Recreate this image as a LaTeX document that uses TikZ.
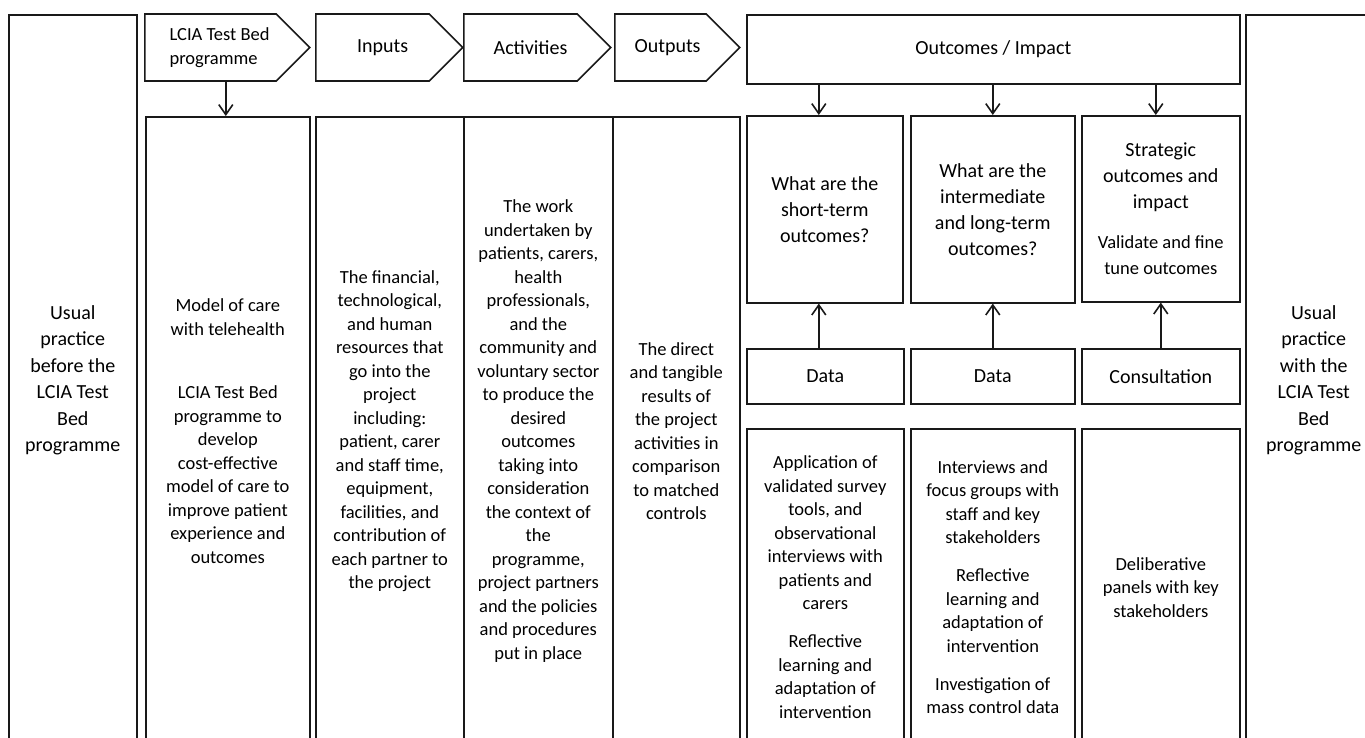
\documentclass[tikz,border=0pt]{standalone}
\usepackage{fontspec}
\setmainfont{Carlito}
\usetikzlibrary{shapes.symbols,arrows.meta}
\newcommand{\bigfnt}{\fontsize{20}{26}\selectfont}
\newcommand{\smlfnt}{\fontsize{18.5}{23.5}\selectfont}
\begin{document}
\begin{tikzpicture}[x=1pt,y=-1pt,
  box/.style={draw=linecolor,line width=1.6pt,rectangle,inner sep=0pt,align=center,anchor=north west},
  hdr/.style={draw=linecolor,line width=1.6pt,signal,signal to=east,signal pointer angle=90,minimum height=67pt,inner sep=0pt,anchor=west,font=\bigfnt},
  flow/.style={draw=linecolor,line width=1.6pt,-{Straight Barb[length=10pt,width=14pt]}}]
\definecolor{linecolor}{RGB}{25,25,25}
\useasboundingbox (0,0) rectangle (1365,737);
\clip (0,0) rectangle (1365,737);
\node [box,minimum width=128,minimum height=731,font=\fontsize{20}{26.4}\selectfont] (before) at (8,14) {Usual\\practice\\before the\\LCIA Test\\Bed\\programme};
\node [hdr,minimum width=165,font=\smlfnt,align=left] (lcia) at (144,47.5) {\hspace*{18pt}LCIA Test Bed\\\hspace*{18pt}programme};
\node [hdr,minimum width=147] (inputs) at (315,47.5) {\hspace*{20pt}Inputs};
\node [hdr,minimum width=147] (activities) at (463,47.5) {\hspace*{20pt}Activities};
\node [hdr,minimum width=125] (outputs) at (614,47.5) {\hspace*{14pt}Outputs};
\node [box,minimum width=493,minimum height=69,font=\bigfnt] (outc) at (746,14) {Outcomes / Impact};
\node [box,minimum width=136,minimum height=731,font=\fontsize{20}{26.4}\selectfont] (after) at (1245,14) {Usual\\practice\\with the\\LCIA Test\\Bed\\programme};
\node [box,minimum width=164,minimum height=629,font=\smlfnt] (model) at (145,116) {Model of care\\with telehealth\\[40pt]LCIA Test Bed\\programme to\\develop\\cost-effective\\model of care to\\improve patient\\experience and\\outcomes};
\node [box,minimum width=148,minimum height=629,font=\smlfnt] (resources) at (315,116) {The financial,\\technological,\\and human\\resources that\\go into the\\project\\including:\\patient, carer\\and staff time,\\equipment,\\facilities, and\\contribution of\\each partner to\\the project};
\node [box,minimum width=149,minimum height=629,font=\smlfnt] (work) at (463,116) {The work\\undertaken by\\patients, carers,\\health\\professionals,\\and the\\community and\\voluntary sector\\to produce the\\desired\\outcomes\\taking into\\consideration\\the context of\\the\\programme,\\project partners\\and the policies\\and procedures\\put in place};
\node [box,minimum width=127,minimum height=629,font=\smlfnt] (results) at (612,116) {The direct\\and tangible\\results of\\the project\\activities in\\comparison\\to matched\\controls};
\node [box,minimum width=156,minimum height=187,font=\bigfnt] (shortq) at (746,115) {What are the\\short-term\\outcomes?};
\node [box,minimum width=164,minimum height=187,font=\bigfnt] (longq) at (910,115) {What are the\\intermediate\\and long-term\\outcomes?};
\node [box,minimum width=158,minimum height=186,font=\bigfnt] (strategic) at (1081,115) {Strategic\\outcomes and\\impact\\[14pt]{\smlfnt Validate and fine}\\{\smlfnt tune outcomes}};
\node [box,minimum width=157,minimum height=55,font=\bigfnt] (datashort) at (746,348) {Data};
\node [box,minimum width=164,minimum height=55,font=\bigfnt] (datalong) at (910,348) {Data};
\node [box,minimum width=158,minimum height=55,font=\bigfnt] (consult) at (1081,348) {Consultation};
\node [box,minimum width=157,minimum height=317,font=\smlfnt] (survey) at (746,428) {Application of\\validated survey\\tools, and\\observational\\interviews with\\patients and\\carers\\[14.5pt]Reflective\\learning and\\adaptation of\\intervention};
\node [box,minimum width=164,minimum height=317,font=\smlfnt] (focus) at (910,428) {Interviews and\\focus groups with\\staff and key\\stakeholders\\[14.5pt]Reflective\\learning and\\adaptation of\\intervention\\[14.5pt]Investigation of\\mass control data};
\node [box,minimum width=158,minimum height=317,font=\smlfnt] (panels) at (1081,428) {Deliberative\\panels with key\\stakeholders};
\draw [flow] ([xshift=-2pt]model.north |- lcia.south) -- ([xshift=-2pt]model.north);
\draw [flow] ([xshift=-6pt]shortq.north |- outc.south) -- ([xshift=-6pt]shortq.north);
\draw [flow] (longq.north |- outc.south) -- (longq.north);
\draw [flow] ([xshift=-5pt]strategic.north |- outc.south) -- ([xshift=-5pt]strategic.north);
\draw [flow] ([xshift=-6.5pt]datashort.north) -- ([xshift=-6.5pt]datashort.north |- shortq.south);
\draw [flow] (datalong.north) -- (datalong.north |- longq.south);
\draw [flow] (consult.north) -- (consult.north |- strategic.south);
\end{tikzpicture}
\end{document}
